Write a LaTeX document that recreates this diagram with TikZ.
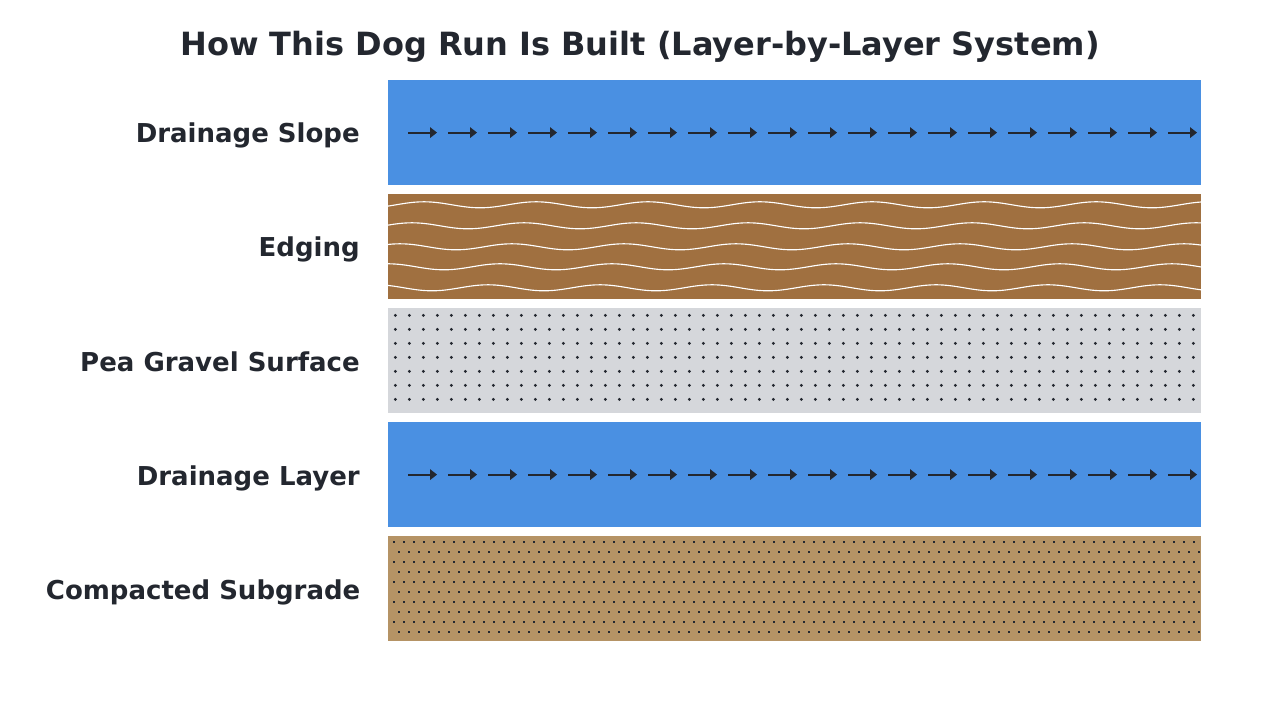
\documentclass[tikz,border=0pt]{standalone}
\usepackage{fontspec}
\setmainfont{DejaVu Sans}
\definecolor{ink}{HTML}{23272F}
\definecolor{water}{HTML}{4A90E2}
\definecolor{edgingc}{HTML}{A07040}
\definecolor{gravelc}{HTML}{D5D7DB}
\definecolor{subgradec}{HTML}{B59365}
\tikzset{
  band/.style={draw=none,inner sep=0pt,outer sep=0pt,minimum width=813*0.75pt,minimum height=105*0.75pt,anchor=north west},
  layerlabel/.style={inner sep=0pt,anchor=base east,text=ink,font=\fontsize{19.5pt}{23pt}\bfseries},
  flowline/.style={draw=ink,line width=1.4pt},
  flowhead/.style={fill=ink,draw=none},
  wave/.style={draw=white,line width=0.85pt},
  dotmark/.style={fill=ink,draw=none}
}
\newcommand{\flowrow}[1]{%
  \foreach \i in {0,...,19}{
    \pgfmathsetmacro{\xs}{408+40*\i}
    \draw[flowline] (\xs,#1) -- (\xs+24,#1);
    \fill[flowhead] (\xs+22,#1-5.5) -- (\xs+29,#1) -- (\xs+22,#1+5.5) -- cycle;
  }}
\begin{document}
\begin{tikzpicture}[x=0.75pt,y=-0.75pt]
\useasboundingbox (0,0) rectangle (1280,720);
\node[inner sep=0pt,anchor=base,text=ink,font=\fontsize{24pt}{29pt}\bfseries] (title) at (640,55.7) {How This Dog Run Is Built (Layer-by-Layer System)};
\node[band,fill=water] (slope) at (388,80) {};
\node[band,fill=edgingc] (edging) at (388,194) {};
\node[band,fill=gravelc] (gravel) at (388,308) {};
\node[band,fill=water] (dlayer) at (388,422) {};
\node[band,fill=subgradec] (subgrade) at (388,536) {};
\node[layerlabel] (l1) at (360,143) {Drainage Slope};
\node[layerlabel] (l2) at (360,257) {Edging};
\node[layerlabel] (l3) at (360,371) {Pea Gravel Surface};
\node[layerlabel] (l4) at (360,485) {Drainage Layer};
\node[layerlabel] (l5) at (360.6,599) {Compacted Subgrade};
\flowrow{132.6}
\flowrow{474.6}
\begin{scope}
\clip (388,194) rectangle (1201,299);
\foreach \r/\yc/\pk in {0/204.8/424,1/225.8/412,2/246.8/400,3/266.8/388,4/287.8/376}{
  \draw[wave,domain=380:1210,samples=260,variable=\t] plot (\t,{\yc-3*cos(3.2142857*(\t-\pk))});
}
\end{scope}
\foreach \cx in {0,...,57}{
  \foreach \cy in {0,...,6}{
    \fill[dotmark] (395.4+14*\cx,315.4+14*\cy) circle (1.6);
  }
}
\foreach \cy in {0,...,9}{
  \pgfmathsetmacro{\off}{mod(\cy,2)*5}
  \foreach \cx in {0,...,80}{
    \fill[dotmark] (393+\off+10*\cx,541+10*\cy) rectangle +(2,2);
  }
}
\end{tikzpicture}
\end{document}
